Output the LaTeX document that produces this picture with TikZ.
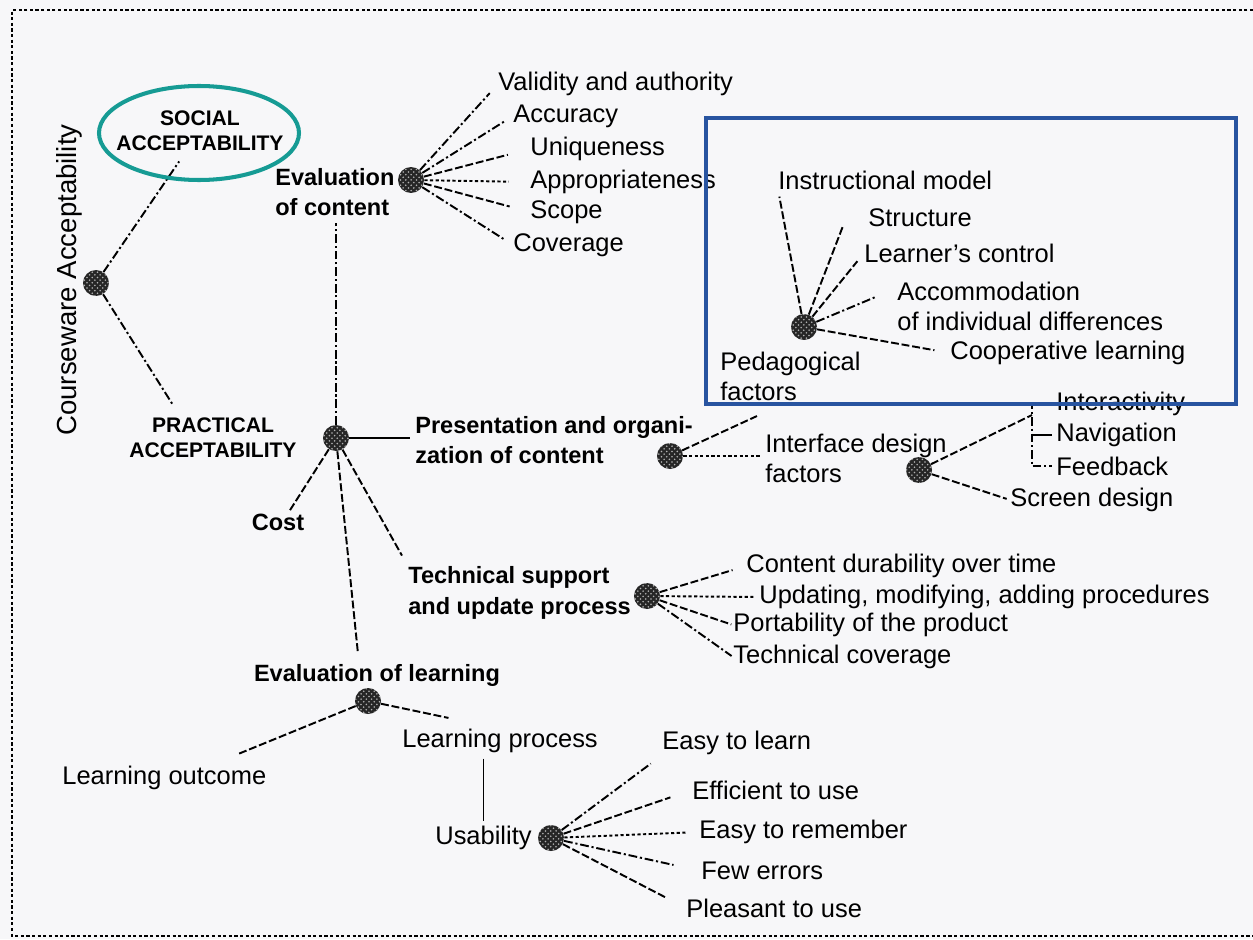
\documentclass[tikz,border=0pt]{standalone}
\usepackage{fontspec}
\setmainfont{Liberation Sans}
\usetikzlibrary{shapes,calc,positioning,patterns}
\definecolor{hlteal}{RGB}{22,155,148}
\definecolor{hlblue}{RGB}{40,84,160}
\definecolor{paper}{RGB}{247,247,249}
\tikzset{hub/.style={circle, inner sep=0pt, minimum size=0.52cm, fill=black!85, postaction={pattern=crosshatch dots, pattern color=black!30}}}
\tikzstyle{lab}=[inner sep=0pt, anchor=west, font=\fontsize{14.5}{17}\selectfont, align=left]
\tikzstyle{blab}=[inner sep=0pt, font=\bfseries\fontsize{13.4}{17.5}\selectfont, align=left]
\tikzstyle{capsl}=[inner sep=0pt, font=\bfseries\fontsize{12}{14.2}\selectfont, align=center]
\tikzstyle{sld}=[line width=1pt]
\tikzstyle{dsh}=[line width=1.1pt, dash pattern=on 4.5pt off 1.6pt]
\tikzstyle{ddt}=[line width=1.1pt, dash pattern=on 5pt off 1.6pt on 1.2pt off 1.6pt]
\tikzstyle{dts}=[line width=1.1pt, dash pattern=on 1.8pt off 1.4pt]

\begin{document}
\begin{tikzpicture}[x=0.02cm, y=-0.02cm]
\useasboundingbox (0,0) rectangle (1253,939);
\fill[paper] (0,0) rectangle (1253,939);
\draw[dts, line width=0.7pt] (1253,10) -- (12,10) -- (12,936) -- (1253,936);

% hubs
\node[hub] (hR) at (96,283) {};
\node[hub] (hEC) at (411,180) {};
\node[hub] (hP) at (336,438) {};
\node[hub] (hPr) at (670,456) {};
\node[hub] (hPed) at (804,327) {};
\node[hub] (hI) at (919,470) {};
\node[hub] (hT) at (647,596) {};
\node[hub] (hEL) at (368,701) {};
\node[hub] (hU) at (551,838) {};

% labels
\node[rotate=90, inner sep=0pt, font=\fontsize{15.7}{18}\selectfont] (crs) at (69,280) {Courseware Acceptability};
\node[capsl] (soc) at (200,131) {SOCIAL\\ACCEPTABILITY};
\node[capsl] (prac) at (213,438) {PRACTICAL\\ACCEPTABILITY};
\node[blab, anchor=west] (ec) at (275,192) {Evaluation\\of content};
\node[lab] (val) at (498,84) {Validity and authority};
\node[lab] (acc) at (513,116) {Accuracy};
\node[lab] (uni) at (530,149) {Uniqueness};
\node[lab] (app) at (530,182) {Appropriateness};
\node[lab] (sco) at (530,212) {Scope};
\node[lab] (cov) at (513,245) {Coverage};
\node[blab, anchor=west] (pres) at (415,440) {Presentation and organi-\\zation of content};
\node[blab] (cost) at (278,522) {Cost};
\node[blab, anchor=west] (tech) at (408,593) {Technical support\\and update process};
\node[blab] (el) at (377,675) {Evaluation of learning};
\node[lab] (ped) at (720,376) {Pedagogical\\factors};
\node[lab] (ins) at (778,180) {Instructional model};
\node[lab] (str) at (868,218) {Structure};
\node[lab] (lc) at (864,253) {Learner’s control};
\node[lab] (accom) at (897,306) {Accommodation\\of individual differences};
\node[lab] (coop) at (950,353) {Cooperative learning};
\node[lab] (intf) at (765,458) {Interface design\\factors};
\node[lab] (inter) at (1056,404) {Interactivity};
\node[lab] (nav) at (1056,435) {Navigation};
\node[lab] (fb) at (1056,466) {Feedback};
\node[lab] (scr) at (1010,500) {Screen design};
\node[lab] (cdur) at (746,566) {Content durability over time};
\node[lab] (upd) at (759,597) {Updating, modifying, adding procedures};
\node[lab] (port) at (733,625) {Portability of the product};
\node[lab] (tcov) at (733,657) {Technical coverage};
\node[lab] (lo) at (62,778) {Learning outcome};
\node[lab] (lp) at (402,741) {Learning process};
\node[lab] (us) at (435,838) {Usability};
\node[lab] (etl) at (662,743) {Easy to learn};
\node[lab] (eff) at (692,790) {Efficient to use};
\node[lab] (etr) at (699,832) {Easy to remember};
\node[lab] (few) at (701,871) {Few errors};
\node[lab] (ple) at (686,908) {Pleasant to use};

% connectors
\draw[ddt, shorten >=7pt] (hR) -- (soc);
\draw[ddt, shorten >=8pt] (hR) -- ($(prac.north)+(-32,0)$);
\path (hEC) edge[ddt, shorten >=7pt] (val.west)
            edge[ddt, shorten >=6pt] (acc.west)
            edge[dsh, shorten >=13pt] (uni.west)
            edge[dts, shorten >=12pt] (app.west)
            edge[dsh, shorten >=12pt] (sco.west)
            edge[ddt, shorten >=6pt] (cov.west);
\draw[ddt, shorten >=4pt] (hP) -- (hP |- ec.south);
\draw[sld, shorten >=3pt] (hP) -- (hP -| pres.west);
\draw[dsh, shorten >=2pt] (hP) -- ($(cost.north)+(10,0)$);
\draw[dsh, shorten >=7pt] (hP) -- (tech.north west);
\draw[dsh, shorten >=7pt] (hP) -- ($(el.north)+(-18,0)$);
\draw[dsh, shorten >=21pt] (hPr) -- (ped.south);
\draw[dts, shorten >=3pt] (hPr) -- (hPr -| intf.west);
\path (hPed) edge[dsh, shorten >=4pt] (ins.south west)
             edge[dsh, shorten >=6pt] (lc.west)
             edge[dsh, shorten >=9pt] (coop.west);
\draw[dsh, shorten >=1pt] (hPed) -- ($(str.south west)+(-24,-4)$);
\draw[ddt, shorten >=13pt] (hPed) -- ($(accom.west)+(0,-18)$);
\coordinate (brk) at ($(nav.west)+(-24,-20)$);
\draw[dsh] (hI) -- (brk);
\draw[ddt] ($(inter.west)+(-4,0)$) -| ($(fb.west)+(-24,0)$) -- ($(fb.west)+(-4,0)$);
\draw[sld] ($(nav.west)+(-24,0)$) -- ($(nav.west)+(-4,0)$);
\draw[dsh, shorten >=2pt] (hI) -- (scr.west);
\path (hT) edge[dsh, shorten >=8pt] (cdur.west)
           edge[dts, shorten >=2pt] (upd.west)
           edge[dsh, shorten >=1pt] (port.west)
           edge[ddt, shorten >=1pt] (tcov.west);
\draw[dsh] (hEL) -- ($(lo.north east)+(-28,-12)$);
\draw[dsh, shorten >=30pt] (hEL) -- (lp.north);
\draw[sld, shorten <=3pt, shorten >=3pt] (lp.south -| us.north) -- (us.north);
\path (hU) edge[ddt, shorten >=8pt] (etl.south west)
           edge[dsh, shorten >=13pt] (eff.west)
           edge[dts, shorten >=7pt] (etr.west)
           edge[ddt, shorten >=16pt] (few.west)
           edge[dsh, shorten >=12pt] (ple.west);

% highlights
\draw[hlteal, line width=2.3pt] ($(soc)+(-1,2)$) ellipse [x radius=100, y radius=47];
\draw[hlblue, line width=2.3pt] (706,118) rectangle (1236,404);
\end{tikzpicture}
\end{document}
